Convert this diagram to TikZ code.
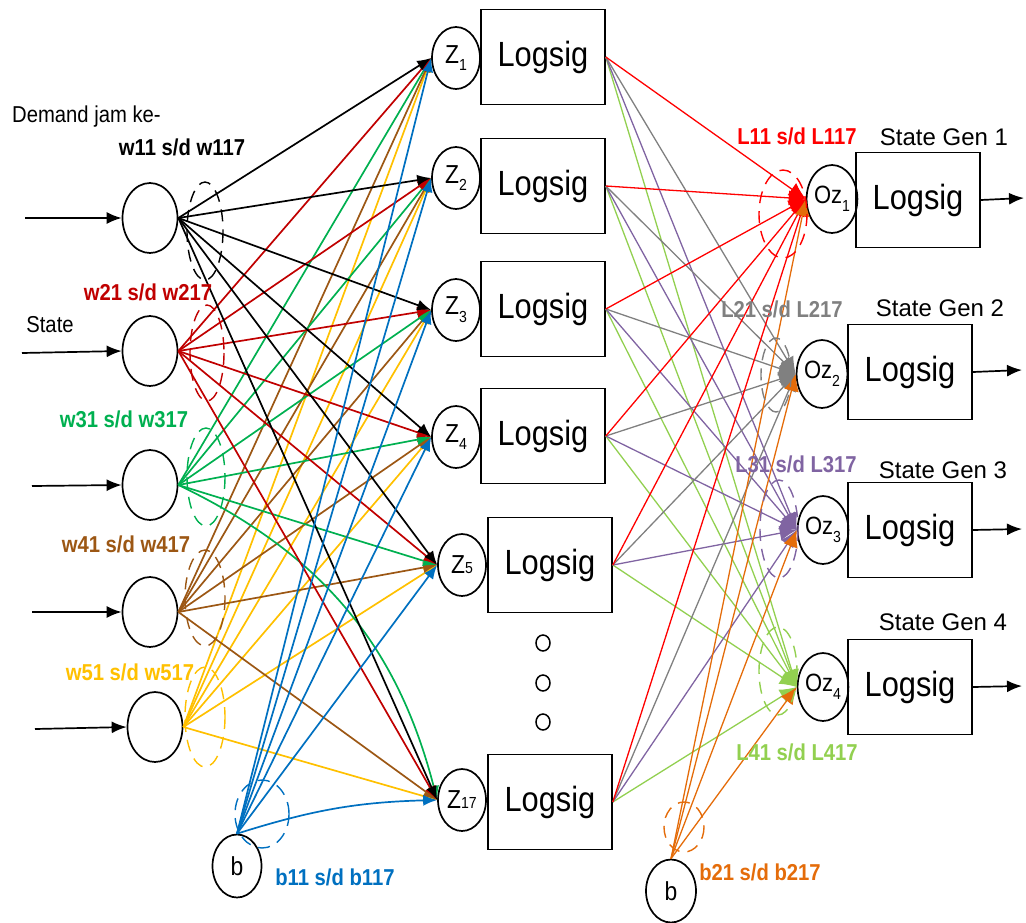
\documentclass[tikz,border=0pt]{standalone}
\usepackage{fontspec}
\setmainfont{Liberation Sans}
\newfontfamily\tallfont{Liberation Sans}[FakeStretch=0.88]
\usetikzlibrary{shapes.geometric,arrows.meta}
\definecolor{wred}{RGB}{192,0,0}
\definecolor{wgreen}{RGB}{0,176,80}
\definecolor{wbrown}{RGB}{156,87,20}
\definecolor{wyellow}{RGB}{255,192,0}
\definecolor{wblue}{RGB}{0,112,192}
\definecolor{lred}{RGB}{255,0,0}
\definecolor{lgray}{RGB}{128,128,128}
\definecolor{lpurple}{RGB}{128,100,162}
\definecolor{lgreen}{RGB}{146,208,80}
\definecolor{lorange}{RGB}{228,108,10}
\newcommand{\lsub}[1]{\raisebox{-0.3em}{\fontsize{16}{16}\selectfont #1}}
\tikzset{myneuron/.style={draw,ellipse,line width=1.7pt,minimum width=48pt,minimum height=62pt,inner sep=0pt,font=\tallfont\fontsize{26}{26}\selectfont}}
\tikzset{myinput/.style={myneuron,minimum width=55pt,minimum height=70pt}}
\tikzset{mybox/.style={draw,rectangle,line width=1.6pt,minimum width=124pt,minimum height=95pt,font=\tallfont\fontsize{35}{35}\selectfont}}
\tikzset{mylink/.style={line width=1.7pt,-{Latex[length=14pt,width=11pt]}}}
\tikzset{myoutlink/.style={line width=1.3pt,-{Latex[length=17pt,width=15pt]}}}
\tikzset{myaxis/.style={line width=1.7pt,-{Latex[length=15pt,width=12pt]}}}
\tikzset{mylabel/.style={font=\tallfont\bfseries\fontsize{23}{23}\selectfont}}
\tikzset{mynode/.style={font=\tallfont\fontsize{23}{23}\selectfont}}
\tikzset{mygen/.style={font=\fontsize{24}{24}\selectfont}}
\tikzset{myarc/.style={dash pattern=on 12pt off 8pt,line width=1.4pt}}

\begin{document}
\begin{tikzpicture}[x=1pt,y=-1pt]
	\useasboundingbox (0,0) rectangle (1026,922);

	% input layer
	\node[myinput] (in1) at (150,218) {};
	\node[myinput] (in2) at (150,351) {};
	\node[myinput] (in3) at (150,485) {};
	\node[myinput] (in4) at (150,612) {};
	\node[myinput] (in5) at (155,727) {};
	\node[myneuron,minimum width=49pt,minimum height=63pt] (bh) at (237,866) {b};

	\coordinate (s1) at (25,218);
	\coordinate (s2) at (22,353);
	\coordinate (s3) at (32,486);
	\coordinate (s4) at (32,612);
	\coordinate (s5) at (35,729);
	\foreach \i in {1,...,5} {\draw[myaxis] (s\i) -- (in\i.west);}

	% hidden layer
	\node[myneuron] (z1) at (456,58) {Z\lsub{1}};
	\node[myneuron] (z2) at (456,178) {Z\lsub{2}};
	\node[myneuron] (z3) at (456,310) {Z\lsub{3}};
	\node[myneuron] (z4) at (456,437) {Z\lsub{4}};
	\node[myneuron] (z5) at (462,565) {Z{\fontsize{16}{16}\selectfont 5}};
	\node[myneuron] (z17) at (462,800) {Z{\fontsize{16}{16}\selectfont 17}};

	\node[mybox] (l1) at (543,57) {Logsig};
	\node[mybox] (l2) at (543,186) {Logsig};
	\node[mybox] (l3) at (543,309) {Logsig};
	\node[mybox] (l4) at (543,436) {Logsig};
	\node[mybox] (l5) at (550,565) {Logsig};
	\node[mybox] (l17) at (550,802) {Logsig};

	\foreach \y [count=\k] in {643,683,722} {\node[draw,ellipse,line width=1.5pt,minimum width=14pt,minimum height=16pt,inner sep=0pt] (dot\k) at (543,\y) {};}

	% output layer
	\node[myneuron,minimum height=68pt,font=\tallfont\fontsize{25}{25}\selectfont] (oz1) at (832,199) {Oz\lsub{1}};
	\node[myneuron,minimum height=68pt,font=\tallfont\fontsize{25}{25}\selectfont] (oz2) at (822,374) {Oz\lsub{2}};
	\node[myneuron,minimum height=68pt,font=\tallfont\fontsize{25}{25}\selectfont] (oz3) at (823,530) {Oz\lsub{3}};
	\node[myneuron,minimum height=68pt,font=\tallfont\fontsize{25}{25}\selectfont] (oz4) at (823,687) {Oz\lsub{4}};
	\node[myneuron,minimum width=50pt,minimum height=63pt] (bo) at (671,891) {b};

	\node[mybox] (o1) at (918,200) {Logsig};
	\node[mybox] (o2) at (910,372) {Logsig};
	\node[mybox] (o3) at (910,530) {Logsig};
	\node[mybox] (o4) at (910,687) {Logsig};

	\coordinate (e1) at (1024,198);
	\coordinate (e2) at (1022,370);
	\coordinate (e3) at (1022,529);
	\coordinate (e4) at (1022,686);
	\foreach \i in {1,...,4} {\draw[myaxis] (o\i.east) -- (e\i);}

	% weights input -> hidden
	\foreach \i/\c in {5/wyellow,4/wbrown,3/wgreen,2/wred,1/black} {
		\foreach \z in {1,...,5} {\draw[mylink,\c] (in\i.east) -- (z\z.west);}
	}
	\draw[mylink,wyellow] (in5.east) -- (z17.west);
	\draw[mylink,wbrown] (in4.east) -- (z17.west);
	\draw[mylink,wgreen] (in3.east) to[bend left=25] (z17.west);
	\draw[mylink,wred] (in2.east) -- (z17.west);
	\draw[mylink,black] (in1.east) -- (z17.west);
	\foreach \z in {1,...,5} {\draw[mylink,wblue] (bh.north) -- (z\z.west);}
	\draw[mylink,wblue] (bh.north) to[bend left=8] (z17.west);

	% weights hidden -> output
	\foreach \l in {1,2,3,4,5,17} {
		\foreach \o/\c in {4/lgreen,3/lpurple,2/lgray,1/lred} {\draw[myoutlink,\c] (l\l.east) -- (oz\o.west);}
	}
	\foreach \o in {1,...,4} {\draw[myoutlink,lorange] (bo.north) -- (oz\o.west);}

	% weight groups
	\draw[myarc,black] (205,231) ellipse (18 and 49);
	\draw[myarc,wred] (207,353) ellipse (17 and 48);
	\draw[myarc,wgreen] (206,477) ellipse (19 and 49);
	\draw[myarc,wbrown] (205,598) ellipse (20 and 48);
	\draw[myarc,wyellow] (205,717) ellipse (20 and 50);
	\draw[myarc,wblue] (262,814) ellipse (27 and 34);
	\draw[myarc,lred] (783,214) ellipse (24 and 44);
	\draw[myarc,lgray] (776,375) ellipse (15 and 37);
	\draw[myarc,lpurple] (779,529) ellipse (19 and 49);
	\draw[myarc,lgreen] (778,671) ellipse (19 and 44);
	\draw[myarc,lorange] (684,827) ellipse (20 and 25);

	% labels
	\node[mynode,anchor=west,inner sep=0pt] (tdemand) at (12,117) {Demand jam ke-};
	\node[mynode] (tstate) at (50,325) {State};
	\node[mylabel] (tw1) at (182,147) {w11 s/d w117};
	\node[mylabel,wred] (tw2) at (148,292) {w21 s/d w217};
	\node[mylabel,wgreen] (tw3) at (124,419) {w31 s/d w317};
	\node[mylabel,wbrown] (tw4) at (126,544) {w41 s/d w417};
	\node[mylabel,wyellow] (tw5) at (130,672) {w51 s/d w517};
	\node[mylabel,wblue] (tb1) at (335,877) {b11 s/d b117};
	\node[mylabel,lred] (tl1) at (797,136) {L11 s/d L117};
	\node[mylabel,lgray] (tl2) at (782,309) {L21 s/d L217};
	\node[mylabel,lpurple] (tl3) at (796,464) {L31 s/d L317};
	\node[mylabel,lgreen] (tl4) at (797,752) {L41 s/d L417};
	\node[mylabel,lorange] (tb2) at (760,872) {b21 s/d b217};
	\node[mygen] (tg1) at (944,137) {State Gen 1};
	\node[mygen] (tg2) at (940,308) {State Gen 2};
	\node[mygen] (tg3) at (943,470) {State Gen 3};
	\node[mygen] (tg4) at (943,622) {State Gen 4};
\end{tikzpicture}
\end{document}
